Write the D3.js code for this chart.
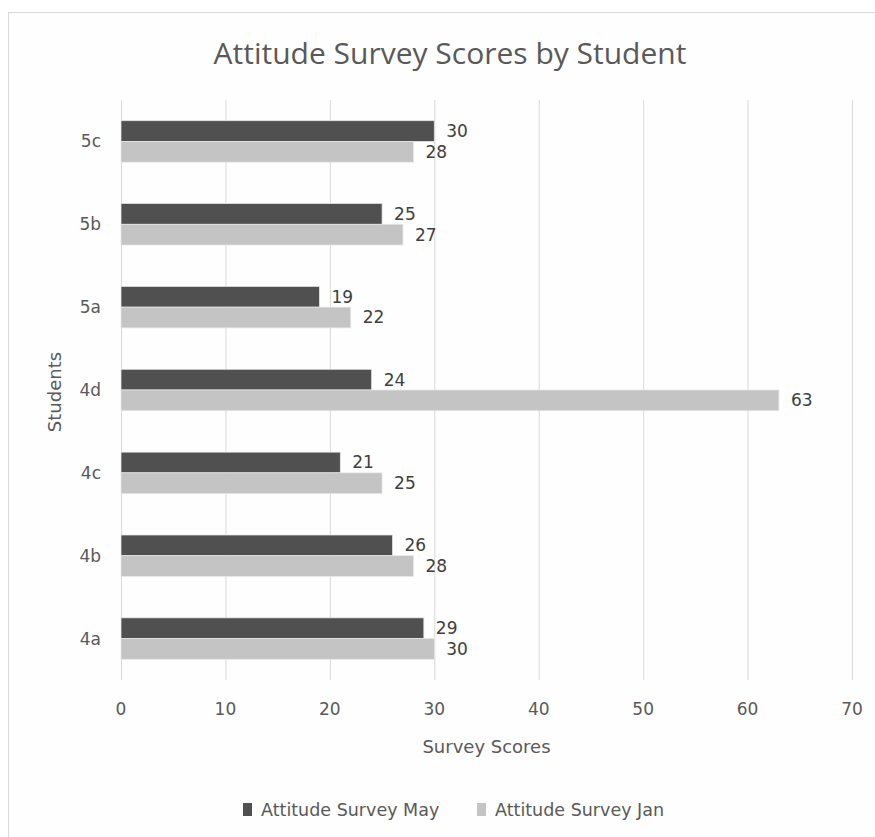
<!DOCTYPE html>
<html>
<head>
<meta charset="utf-8">
<script src="https://cdn.jsdelivr.net/npm/d3@7"></script>
<style>
  body { margin: 0; background: #fff; }
  text { font-family: "DejaVu Sans", sans-serif; fill: #595959; }
</style>
</head>
<body>
<div id="chart"></div>
<script>
const students = ["5c", "5b", "5a", "4d", "4c", "4b", "4a"];
const seriesNames = ["Attitude Survey May", "Attitude Survey Jan"];
const mayScores = [30, 25, 19, 24, 21, 26, 29];
const janScores = [28, 27, 22, 63, 25, 28, 30];
const xTicks = [0, 10, 20, 30, 40, 50, 60, 70];
const seriesColors = ["#505050", "#c4c4c4"];

const width = 875,
    height = 837,
    margin = {top: 100, right: 23, bottom: 157, left: 121};

const svg = d3.select("#chart")
    .append("svg")
    .attr("width", width)
    .attr("height", height);

// chart frame
svg.append("rect")
    .attr("x", 8.5)
    .attr("y", 12.5)
    .attr("width", 900)
    .attr("height", 900)
    .style("fill", "#fefefe")
    .style("stroke", "#d9d9d9");

let x = d3.scaleLinear()
    .domain([0, 70])
    .range([margin.left, width - margin.right]);

let y = d3.scaleBand()
    .domain(students)
    .range([margin.top, height - margin.bottom])
    .paddingInner(0.5)
    .paddingOuter(0.25);

let ySub = d3.scaleBand()
    .domain(seriesNames)
    .range([0, y.bandwidth()]);

// gridlines
svg.append("g")
    .selectAll("line")
    .data(xTicks)
    .enter()
    .append("line")
    .attr("x1", d => x(d) + 0.5)
    .attr("x2", d => x(d) + 0.5)
    .attr("y1", margin.top)
    .attr("y2", height - margin.bottom)
    .style("stroke", "#d9d9d9")
    .style("stroke-width", 1);

// x tick labels
svg.append("g")
    .selectAll("text")
    .data(xTicks)
    .enter()
    .append("text")
    .attr("x", d => x(d))
    .attr("y", 715)
    .attr("text-anchor", "middle")
    .style("font-size", "17px")
    .text(d => d);

// y labels
svg.append("g")
    .selectAll("text")
    .data(students)
    .enter()
    .append("text")
    .attr("x", margin.left - 20)
    .attr("y", d => y(d) + y.bandwidth() / 2 + 6)
    .attr("text-anchor", "end")
    .style("font-size", "17px")
    .text(d => d);

const rows = students.map((s, i) => ({
    student: s,
    values: [mayScores[i], janScores[i]]
}));

let groups = svg.append("g")
    .selectAll("g")
    .data(rows)
    .enter()
    .append("g")
    .attr("transform", d => `translate(0,${y(d.student)})`);

groups.selectAll("rect")
    .data(d => d.values.map((v, i) => ({name: seriesNames[i], value: v, i: i})))
    .enter()
    .append("rect")
    .attr("x", x(0))
    .attr("y", d => ySub(d.name))
    .attr("width", d => x(d.value) - x(0))
    .attr("height", ySub.bandwidth())
    .style("fill", d => seriesColors[d.i])
    .style("stroke", "#e6e6e6")
    .style("stroke-width", 0.75);

groups.selectAll("text")
    .data(d => d.values.map((v, i) => ({name: seriesNames[i], value: v})))
    .enter()
    .append("text")
    .attr("x", d => x(d.value) + 12)
    .attr("y", d => ySub(d.name) + ySub.bandwidth() / 2 + 6)
    .style("font-size", "17px")
    .style("fill", "#404040")
    .text(d => d.value);

// title
svg.append("text")
    .attr("x", 450)
    .attr("y", 64)
    .attr("text-anchor", "middle")
    .style("font-family", "'Open Sans', sans-serif")
    .style("font-size", "30px")
    .text("Attitude Survey Scores by Student");

// axis titles
svg.append("text")
    .attr("x", (x(0) + x(70)) / 2)
    .attr("y", 753)
    .attr("text-anchor", "middle")
    .style("font-size", "18px")
    .text("Survey Scores");

svg.append("text")
    .attr("transform", "translate(61,392) rotate(-90)")
    .attr("text-anchor", "middle")
    .style("font-size", "18px")
    .text("Students");

// legend
let legendX = [243, 477];
let legend = svg.append("g")
    .selectAll("g")
    .data(seriesNames)
    .enter()
    .append("g")
    .attr("transform", (d, i) => `translate(${legendX[i]},803)`);

legend.append("rect")
    .attr("width", 9)
    .attr("height", 13)
    .style("fill", (d, i) => seriesColors[i]);

legend.append("text")
    .attr("x", 18)
    .attr("y", 13)
    .style("font-size", "17.5px")
    .text(d => d);
</script>
</body>
</html>
